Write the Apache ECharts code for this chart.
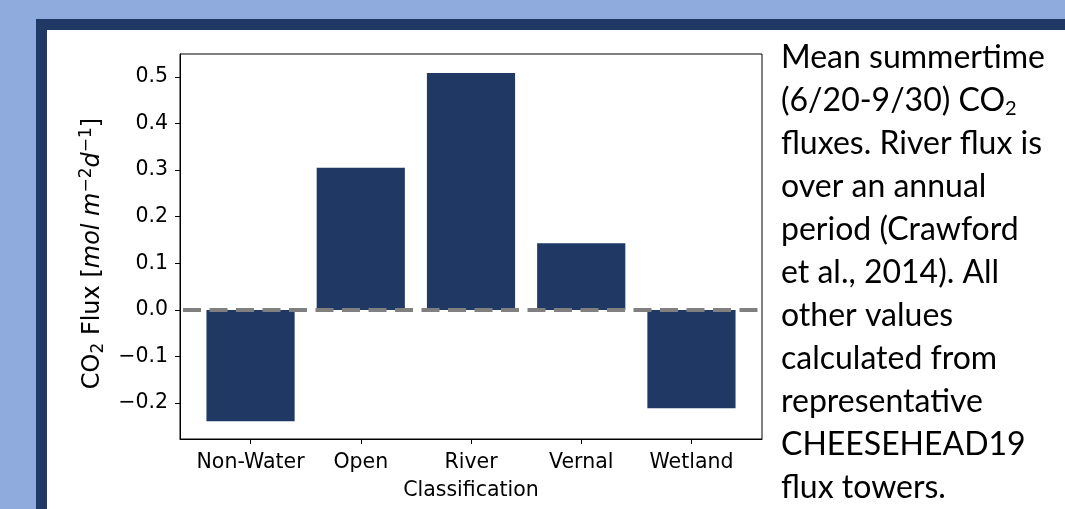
<!DOCTYPE html>
<html>
<head>
<meta charset="utf-8">
<script src="https://cdn.jsdelivr.net/npm/echarts@6/dist/echarts.min.js"></script>
<style>
html,body{margin:0;padding:0;background:#8faadc;}
#chart{width:1065px;height:509px;}
</style>
</head>
<body>
<div id="chart"></div>
<script>
const categories = ['Non-Water', 'Open', 'River', 'Vernal', 'Wetland'];
const fluxValues = [-0.239, 0.305, 0.508, 0.143, -0.211];
const yTicks = [-0.2, -0.1, 0.0, 0.1, 0.2, 0.3, 0.4, 0.5];
const xTicks = [0, 1, 2, 3, 4];
const yRange = [-0.277, 0.549];
const xRange = [-0.64, 4.64];
const noteLines = [
  'Mean summertime',
  '(6/20-9/30) CO{sub|2}',
  'fluxes. River flux is',
  'over an annual',
  'period (Crawford',
  'et al., 2014). All',
  'other values',
  'calculated from',
  'representative',
  'CHEESEHEAD19',
  'flux towers.'
];

const navy = '#203864';
const chart = echarts.init(document.getElementById('chart'), null, {renderer: 'canvas'});
const fmt = v => (v < -1e-9 ? '\u2212' : '') + Math.abs(v).toFixed(1);
const tickFont = 20.5;

chart.setOption({
  backgroundColor: '#8faadc',
  animation: false,
  graphic: [
    {type: 'rect', z: -10, shape: {x: 36, y: 19, width: 1100, height: 600}, style: {fill: navy}},
    {type: 'rect', z: -9, shape: {x: 47, y: 30, width: 1100, height: 600}, style: {fill: '#ffffff'}}
  ],
  title: {
    left: 781, top: 36, padding: 0,
    text: noteLines.join('\n'),
    textStyle: {
      fontFamily: 'Lato', fontSize: 32, fontWeight: 'normal', color: '#000', lineHeight: 43,
      rich: {
        sub: {fontFamily: 'Lato', fontSize: 20, color: '#000', lineHeight: 43, padding: [16, 0, 0, 0]}
      }
    }
  },
  grid: {left: 180, top: 54, right: 303, bottom: 70, show: true, borderColor: '#000', borderWidth: 1, backgroundColor: 'transparent'},
  xAxis: {
    type: 'value', min: xRange[0], max: xRange[1],
    name: 'Classification', nameLocation: 'middle', nameGap: 41,
    nameTextStyle: {fontFamily: 'DejaVu Sans', fontSize: tickFont, color: '#000'},
    axisLine: {show: true, onZero: false, lineStyle: {color: '#000', width: 1}},
    axisTick: {show: true, length: 5, lineStyle: {color: '#000'}, customValues: xTicks},
    axisLabel: {customValues: xTicks, margin: 13, fontFamily: 'DejaVu Sans', fontSize: tickFont, color: '#000',
      formatter: v => categories[Math.round(v)]},
    splitLine: {show: false}
  },
  yAxis: {
    type: 'value', min: yRange[0], max: yRange[1],
    name: 'CO{sub|2} Flux [{it|mol m}{sup|\u22122}{it|d}{sup|\u22121}]',
    nameLocation: 'middle', nameRotate: 90, nameGap: 71,
    nameTextStyle: {
      fontFamily: 'DejaVu Sans', fontSize: 24, color: '#000', padding: [0, 14, 0, 0],
      rich: {
        sub: {fontFamily: 'DejaVu Sans', fontSize: 17, color: '#000', padding: [12, 0, 0, 0]},
        sup: {fontFamily: 'DejaVu Sans', fontSize: 17, color: '#000', padding: [0, 0, 12, 0]},
        it: {fontFamily: 'DejaVu Sans', fontStyle: 'italic', fontSize: 24, color: '#000'}
      }
    },
    axisLine: {show: true, onZero: false, lineStyle: {color: '#000', width: 1}},
    axisTick: {show: true, length: 5, lineStyle: {color: '#000'}, customValues: yTicks},
    axisLabel: {customValues: yTicks, margin: 12, fontFamily: 'DejaVu Sans', fontSize: tickFont, color: '#000', formatter: fmt},
    splitLine: {show: false}
  },
  series: [{
    type: 'bar',
    data: categories.map((c, i) => [xTicks[i], fluxValues[i]]),
    barWidth: '80%',
    itemStyle: {color: navy},
    markLine: {
      silent: true, symbol: 'none',
      label: {show: false},
      lineStyle: {color: '#808080', width: 4, type: [18, 8.5], dashOffset: -3, opacity: 1},
      data: [{yAxis: 0}]
    }
  }]
});
</script>
</body>
</html>
